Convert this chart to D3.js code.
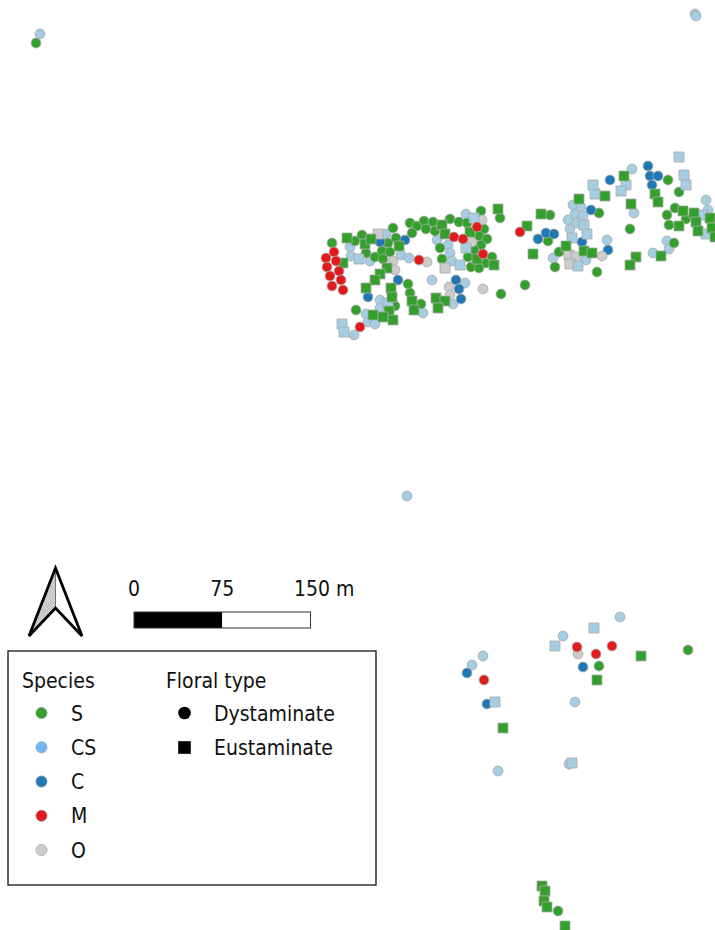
<!DOCTYPE html>
<html>
<head>
<meta charset="utf-8">
<script src="https://cdn.jsdelivr.net/npm/d3@7"></script>
<style>
html, body { margin: 0; padding: 0; background: #fff; }
svg { display: block; }
text { font-family: "DejaVu Sans Condensed", "DejaVu Sans", sans-serif; font-stretch: condensed; fill: #111; }
</style>
</head>
<body>
<div id="map"></div>
<script>
// trees as [east, south] in map grid units
const sDystaminate = [[36,43],[332,243],[355,241],[362,235],[366,253],[375,257],[382,251],[383,259],[388,243],[390,252],[393,228],[396,238],[410,223],[417,226],[412,233],
  [424,221],[433,222],[426,229],[435,231],[450,219],[459,222],[467,223],[481,211],[500,218],[484,229],[479,236],[487,239],[481,245],[474,250],[440,248],[442,259],[468,257],[486,263],[492,257],[471,267],[479,268],
  [408,284],[410,293],[395,306],[356,310],[421,304],[501,294],[525,285],
  [550,215],[599,213],[548,241],[559,252],[555,267],[597,272],
  [668,180],[679,192],[675,208],[667,215],[686,219],[669,225],[630,229],[674,243],
  [599,666],[688,650],[558,911]];
const sEustaminate = [[347,238],[365,244],[371,239],[399,246],[343,263],[387,268],
  [442,225],[445,234],[470,232],[498,209],[477,259],[494,265],
  [380,274],[375,280],[366,288],[391,288],[392,297],[412,301],[414,310],[373,315],[389,311],[383,317],[393,320],
  [436,298],[445,301],[438,308],
  [579,199],[605,196],[541,214],[527,226],[533,254],[566,246],[584,251],[592,253],
  [624,176],[655,194],[658,202],[631,204],[683,211],[694,213],[696,222],[679,226],[698,231],[710,218],[712,228],[715,237],[636,257],[630,265],[661,256],
  [641,656],[597,680],[503,728],[542,886],[545,891],[544,901],[547,907],[565,926]];
const csDystaminate = [[40,34],[695,14],[696,16],[407,496],
  [350,247],[351,256],[370,261],[386,234],[401,255],[409,258],
  [466,214],[437,240],[448,245],[450,253],[452,261],
  [380,300],[380,308],[366,314],[368,322],[375,324],[354,335],
  [432,280],[465,283],[453,304],[423,313],
  [573,205],[581,207],[575,214],[583,216],[568,220],[577,223],[570,229],[607,240],[586,260],[553,258],
  [632,169],[634,213],[706,200],[708,210],[667,241],[669,249],[653,253],
  [620,617],[563,636],[483,656],[472,665],[575,702],[498,771],[569,764]];
const csEustaminate = [[359,259],[474,218],[466,248],[460,265],[388,303],[342,324],[344,332],
  [595,194],[584,225],[587,234],[572,238],[578,266],
  [679,157],[684,175],[686,185],[593,185],[626,185],[621,191],[703,215],[706,234],
  [594,628],[555,646],[495,702],[572,763]];
const cDystaminate = [[380,242],[405,240],[398,280],[368,297],[456,280],[459,289],[461,299],
  [591,210],[538,239],[546,233],[554,234],[582,242],[608,250],
  [648,166],[650,176],[658,176],[652,185],[610,180],
  [583,667],[467,673],[487,704]];
const mDystaminate = [[334,252],[326,258],[336,261],[327,267],[339,271],[419,260],[330,276],[341,280],[332,286],[343,290],[360,327],
  [477,227],[454,237],[463,239],[483,254],[520,232],
  [577,647],[596,654],[612,646],[484,680]];
const oDystaminate = [[393,261],[482,220],[472,242],[427,262],[395,270],[449,287],[450,295],[483,289],[602,256],[578,654]];
const oEustaminate = [[378,234],[445,268],[569,255],[576,257],[570,264]];

const species = ["S", "CS", "C", "M", "O"];
const speciesColors = ["#33a02c", "#a6cee3", "#1f78b4", "#e31a1c", "#cccccc"];
const legendColors = ["#33a02c", "#70b6f5", "#1f78b4", "#e31a1c", "#cccccc"];
const floralTypes = ["Dystaminate", "Eustaminate"];
const scaleTicks = [0, 75, 150];

const width = 715;
const height = 930;

const x = d3.scaleLinear().domain([0, 715]).range([0, width]);
const y = d3.scaleLinear().domain([0, 930]).range([0, height]);
const colour = d3.scaleOrdinal().domain(species).range(speciesColors);
const legendColour = d3.scaleOrdinal().domain(species).range(legendColors);
const shape = d3.scaleOrdinal().domain(floralTypes).range([d3.symbolCircle, d3.symbolSquare]);
const metres = d3.scaleLinear().domain([0, 150]).range([134, 310.5]);

const layers = [
  ["CS", "Dystaminate", csDystaminate],
  ["S", "Dystaminate", sDystaminate],
  ["C", "Dystaminate", cDystaminate],
  ["O", "Dystaminate", oDystaminate],
  ["O", "Eustaminate", oEustaminate],
  ["CS", "Eustaminate", csEustaminate],
  ["S", "Eustaminate", sEustaminate],
  ["M", "Dystaminate", mDystaminate]
];

const svg = d3.select("#map").append("svg")
  .attr("width", width)
  .attr("height", height)
  .attr("viewBox", `0 0 ${width} ${height}`);

const sizeOf = t => t === "Dystaminate" ? 76 : 100;

layers.forEach(([sp, type, pts]) => {
  svg.append("g").selectAll("path")
    .data(pts)
    .join("path")
    .attr("d", d3.symbol(shape(type), sizeOf(type)))
    .attr("transform", d => `translate(${x(d[0])},${y(d[1])})`)
    .attr("fill", colour(sp))
    .attr("stroke", "#a8a8a8")
    .attr("stroke-opacity", 0.9)
    .attr("stroke-width", 0.9);
});

// north arrow
const defs = svg.append("defs");
const hatch = defs.append("pattern")
  .attr("id", "hatch")
  .attr("width", 2)
  .attr("height", 2)
  .attr("patternUnits", "userSpaceOnUse")
  .attr("patternTransform", "rotate(45)");
hatch.append("rect").attr("width", 2).attr("height", 2).attr("fill", "#e2e2e2");
hatch.append("rect").attr("width", 1).attr("height", 2).attr("fill", "#b4b4b4");

const arrow = d3.line();
svg.append("path")
  .attr("d", arrow([[55.5, 568], [55.5, 608], [29, 636]]) + "Z")
  .attr("fill", "url(#hatch)")
  .attr("stroke", "none");
svg.append("path")
  .attr("d", arrow([[55.5, 568], [55.5, 608]]))
  .attr("stroke", "#555")
  .attr("stroke-width", 0.8);
svg.append("path")
  .attr("d", arrow([[55.5, 568], [82, 636], [55.5, 608], [29, 636]]) + "Z")
  .attr("fill", "none")
  .attr("stroke", "#000")
  .attr("stroke-width", 2.8)
  .attr("stroke-linejoin", "miter");

// scale bar
const bar = svg.append("g");
bar.append("rect")
  .attr("x", metres(0)).attr("y", 612)
  .attr("width", metres(75) - metres(0)).attr("height", 16)
  .attr("fill", "#000");
bar.append("rect")
  .attr("x", metres(75)).attr("y", 612)
  .attr("width", metres(150) - metres(75)).attr("height", 16)
  .attr("fill", "#fff");
bar.append("rect")
  .attr("x", metres(0)).attr("y", 612)
  .attr("width", metres(150) - metres(0)).attr("height", 16)
  .attr("fill", "none")
  .attr("stroke", "#333")
  .attr("stroke-width", 1);
bar.selectAll("text")
  .data(scaleTicks)
  .join("text")
  .attr("x", d => d === 150 ? 294 : metres(d))
  .attr("y", 596)
  .attr("text-anchor", d => d === 150 ? "start" : "middle")
  .attr("font-size", 21)
  .text(d => d === 150 ? "150 m" : d);

// legend
const legend = svg.append("g");
legend.append("rect")
  .attr("x", 8).attr("y", 651)
  .attr("width", 368).attr("height", 234)
  .attr("fill", "#fff")
  .attr("stroke", "#222")
  .attr("stroke-width", 1.4);
legend.append("text").attr("x", 22).attr("y", 688).attr("font-size", 21).text("Species");
legend.append("text").attr("x", 166).attr("y", 688).attr("font-size", 21).text("Floral type");

const rowY = d3.scalePoint().domain(species).range([713, 850]);
const typeY = d3.scalePoint().domain(floralTypes).range([713, 747.5]);

legend.selectAll("path.sp")
  .data(species)
  .join("path")
  .attr("class", "sp")
  .attr("d", d3.symbol(d3.symbolCircle, 100))
  .attr("transform", d => `translate(41.5,${rowY(d)})`)
  .attr("fill", d => legendColour(d))
  .attr("stroke", "#a8a8a8")
  .attr("stroke-opacity", 0.9)
  .attr("stroke-width", 0.8);
legend.selectAll("text.sp")
  .data(species)
  .join("text")
  .attr("class", "sp")
  .attr("x", 71)
  .attr("y", d => rowY(d) + 7.5)
  .attr("font-size", 21)
  .text(d => d);

legend.selectAll("path.ft")
  .data(floralTypes)
  .join("path")
  .attr("class", "ft")
  .attr("d", d => d3.symbol(shape(d), d === "Dystaminate" ? 125 : 160)())
  .attr("transform", d => `translate(184.5,${typeY(d)})`)
  .attr("fill", "#000");
legend.selectAll("text.ft")
  .data(floralTypes)
  .join("text")
  .attr("class", "ft")
  .attr("x", 214)
  .attr("y", d => typeY(d) + 7.5)
  .attr("font-size", 21)
  .text(d => d);
</script>
</body>
</html>
